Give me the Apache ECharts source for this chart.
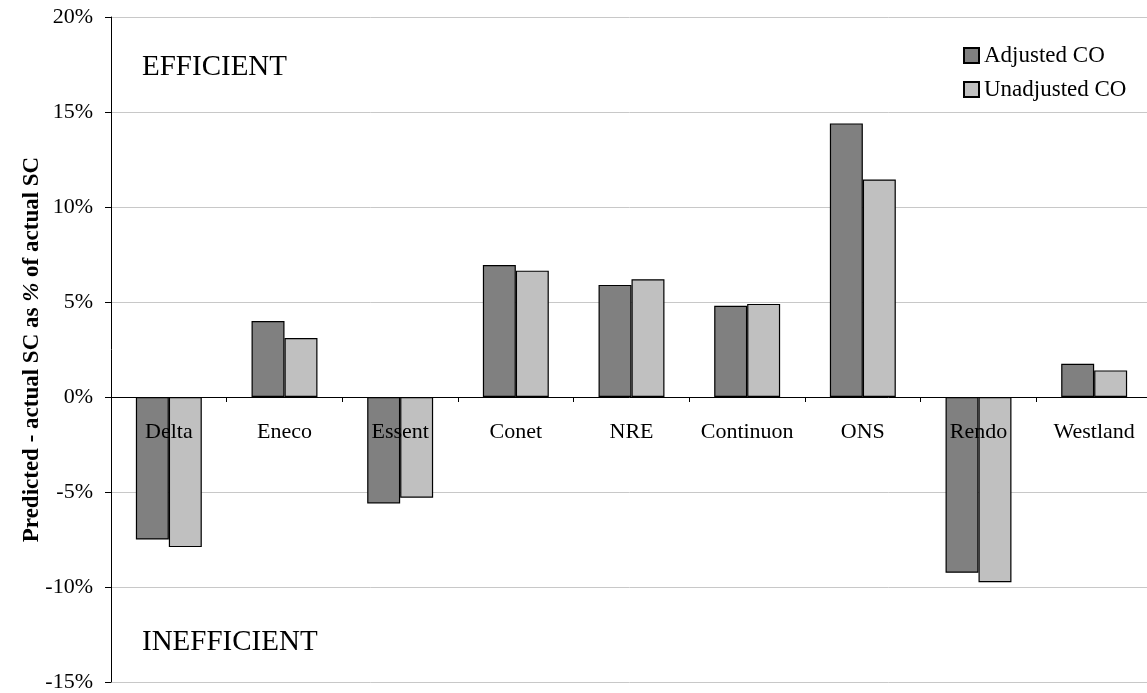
<!DOCTYPE html>
<html>
<head>
<meta charset="utf-8">
<script src="https://cdn.jsdelivr.net/npm/echarts@6/dist/echarts.min.js"></script>
<style>
html,body{margin:0;padding:0;background:#fff;}
#chart{width:1147px;height:693px;}
</style>
</head>
<body>
<div id="chart"></div>
<script>
const categories = ['Delta','Eneco','Essent','Conet','NRE','Continuon','ONS','Rendo','Westland'];
const adjustedCO = [-7.5, 4.0, -5.6, 6.95, 5.9, 4.8, 14.4, -9.25, 1.75];
const unadjustedCO = [-7.9, 3.1, -5.3, 6.65, 6.2, 4.9, 11.45, -9.75, 1.4];
const seriesNames = ['Adjusted CO', 'Unadjusted CO'];
const yTicks = [-15, -10, -5, 0, 5, 10, 15, 20];

const font = 'Liberation Serif, Times New Roman, serif';
const gridTop = 17, gridBottom = 11, chartH = 693;
const plotH = chartH - gridTop - gridBottom;
const yMin = yTicks[0], yMax = yTicks[yTicks.length - 1];
const zeroOffset = -plotH * (0 - yMin) / (yMax - yMin);

const chart = echarts.init(document.getElementById('chart'));
chart.setOption({
  animation: false,
  backgroundColor: '#ffffff',
  textStyle: { fontFamily: font },
  grid: { left: 111, top: gridTop, width: 1041, bottom: gridBottom, containLabel: false, outerBoundsMode: 'none' },
  legend: {
    orient: 'vertical',
    left: 963,
    top: 44,
    padding: 0,
    itemWidth: 15,
    itemHeight: 15,
    itemGap: 11,
    icon: 'rect',
    textStyle: { fontFamily: font, fontSize: 23, color: '#000', lineHeight: 23 },
    data: seriesNames
  },
  xAxis: {
    type: 'category',
    data: categories,
    z: 10,
    position: 'bottom',
    offset: zeroOffset,
    axisLine: { onZero: false, lineStyle: { color: '#000', width: 1 } },
    axisTick: { show: true, length: 5, lineStyle: { color: '#000' } },
    axisLabel: { fontFamily: font, fontSize: 22, color: '#000', margin: 24, interval: 0, hideOverlap: false },
    splitLine: { show: false }
  },
  yAxis: {
    type: 'value',
    min: yMin,
    max: yMax,
    interval: 5,
    name: 'Predicted - actual SC as {i|%} of actual SC',
    nameLocation: 'middle',
    nameGap: 67,
    nameMoveOverlap: false,
    nameTextStyle: {
      fontFamily: font, fontSize: 23, fontWeight: 'bold', color: '#000',
      rich: { i: { fontFamily: font, fontSize: 23, fontWeight: 'bold', fontStyle: 'italic', color: '#000' } }
    },
    axisLine: { show: true, lineStyle: { color: '#000', width: 1 } },
    axisTick: { show: true, length: 6, lineStyle: { color: '#000' } },
    axisLabel: { fontFamily: font, fontSize: 22, color: '#000', margin: 18, formatter: v => v + '%' },
    splitLine: { show: true, lineStyle: { color: '#c8c8c8', width: 1 } }
  },
  graphic: [
    { type: 'text', left: 142, top: 53, style: { text: 'EFFICIENT', font: '29px ' + font, fill: '#000' } },
    { type: 'text', left: 142, top: 628, style: { text: 'INEFFICIENT', font: '29px ' + font, fill: '#000' } }
  ],
  series: [
    {
      name: seriesNames[0], type: 'bar', data: adjustedCO,
      barGap: '0%', barCategoryGap: '43%',
      itemStyle: { color: '#808080', borderColor: '#000', borderWidth: 1.2 }
    },
    {
      name: seriesNames[1], type: 'bar', data: unadjustedCO,
      barGap: '0%', barCategoryGap: '43%',
      itemStyle: { color: '#c0c0c0', borderColor: '#000', borderWidth: 1.2 }
    }
  ]
});
</script>
</body>
</html>
